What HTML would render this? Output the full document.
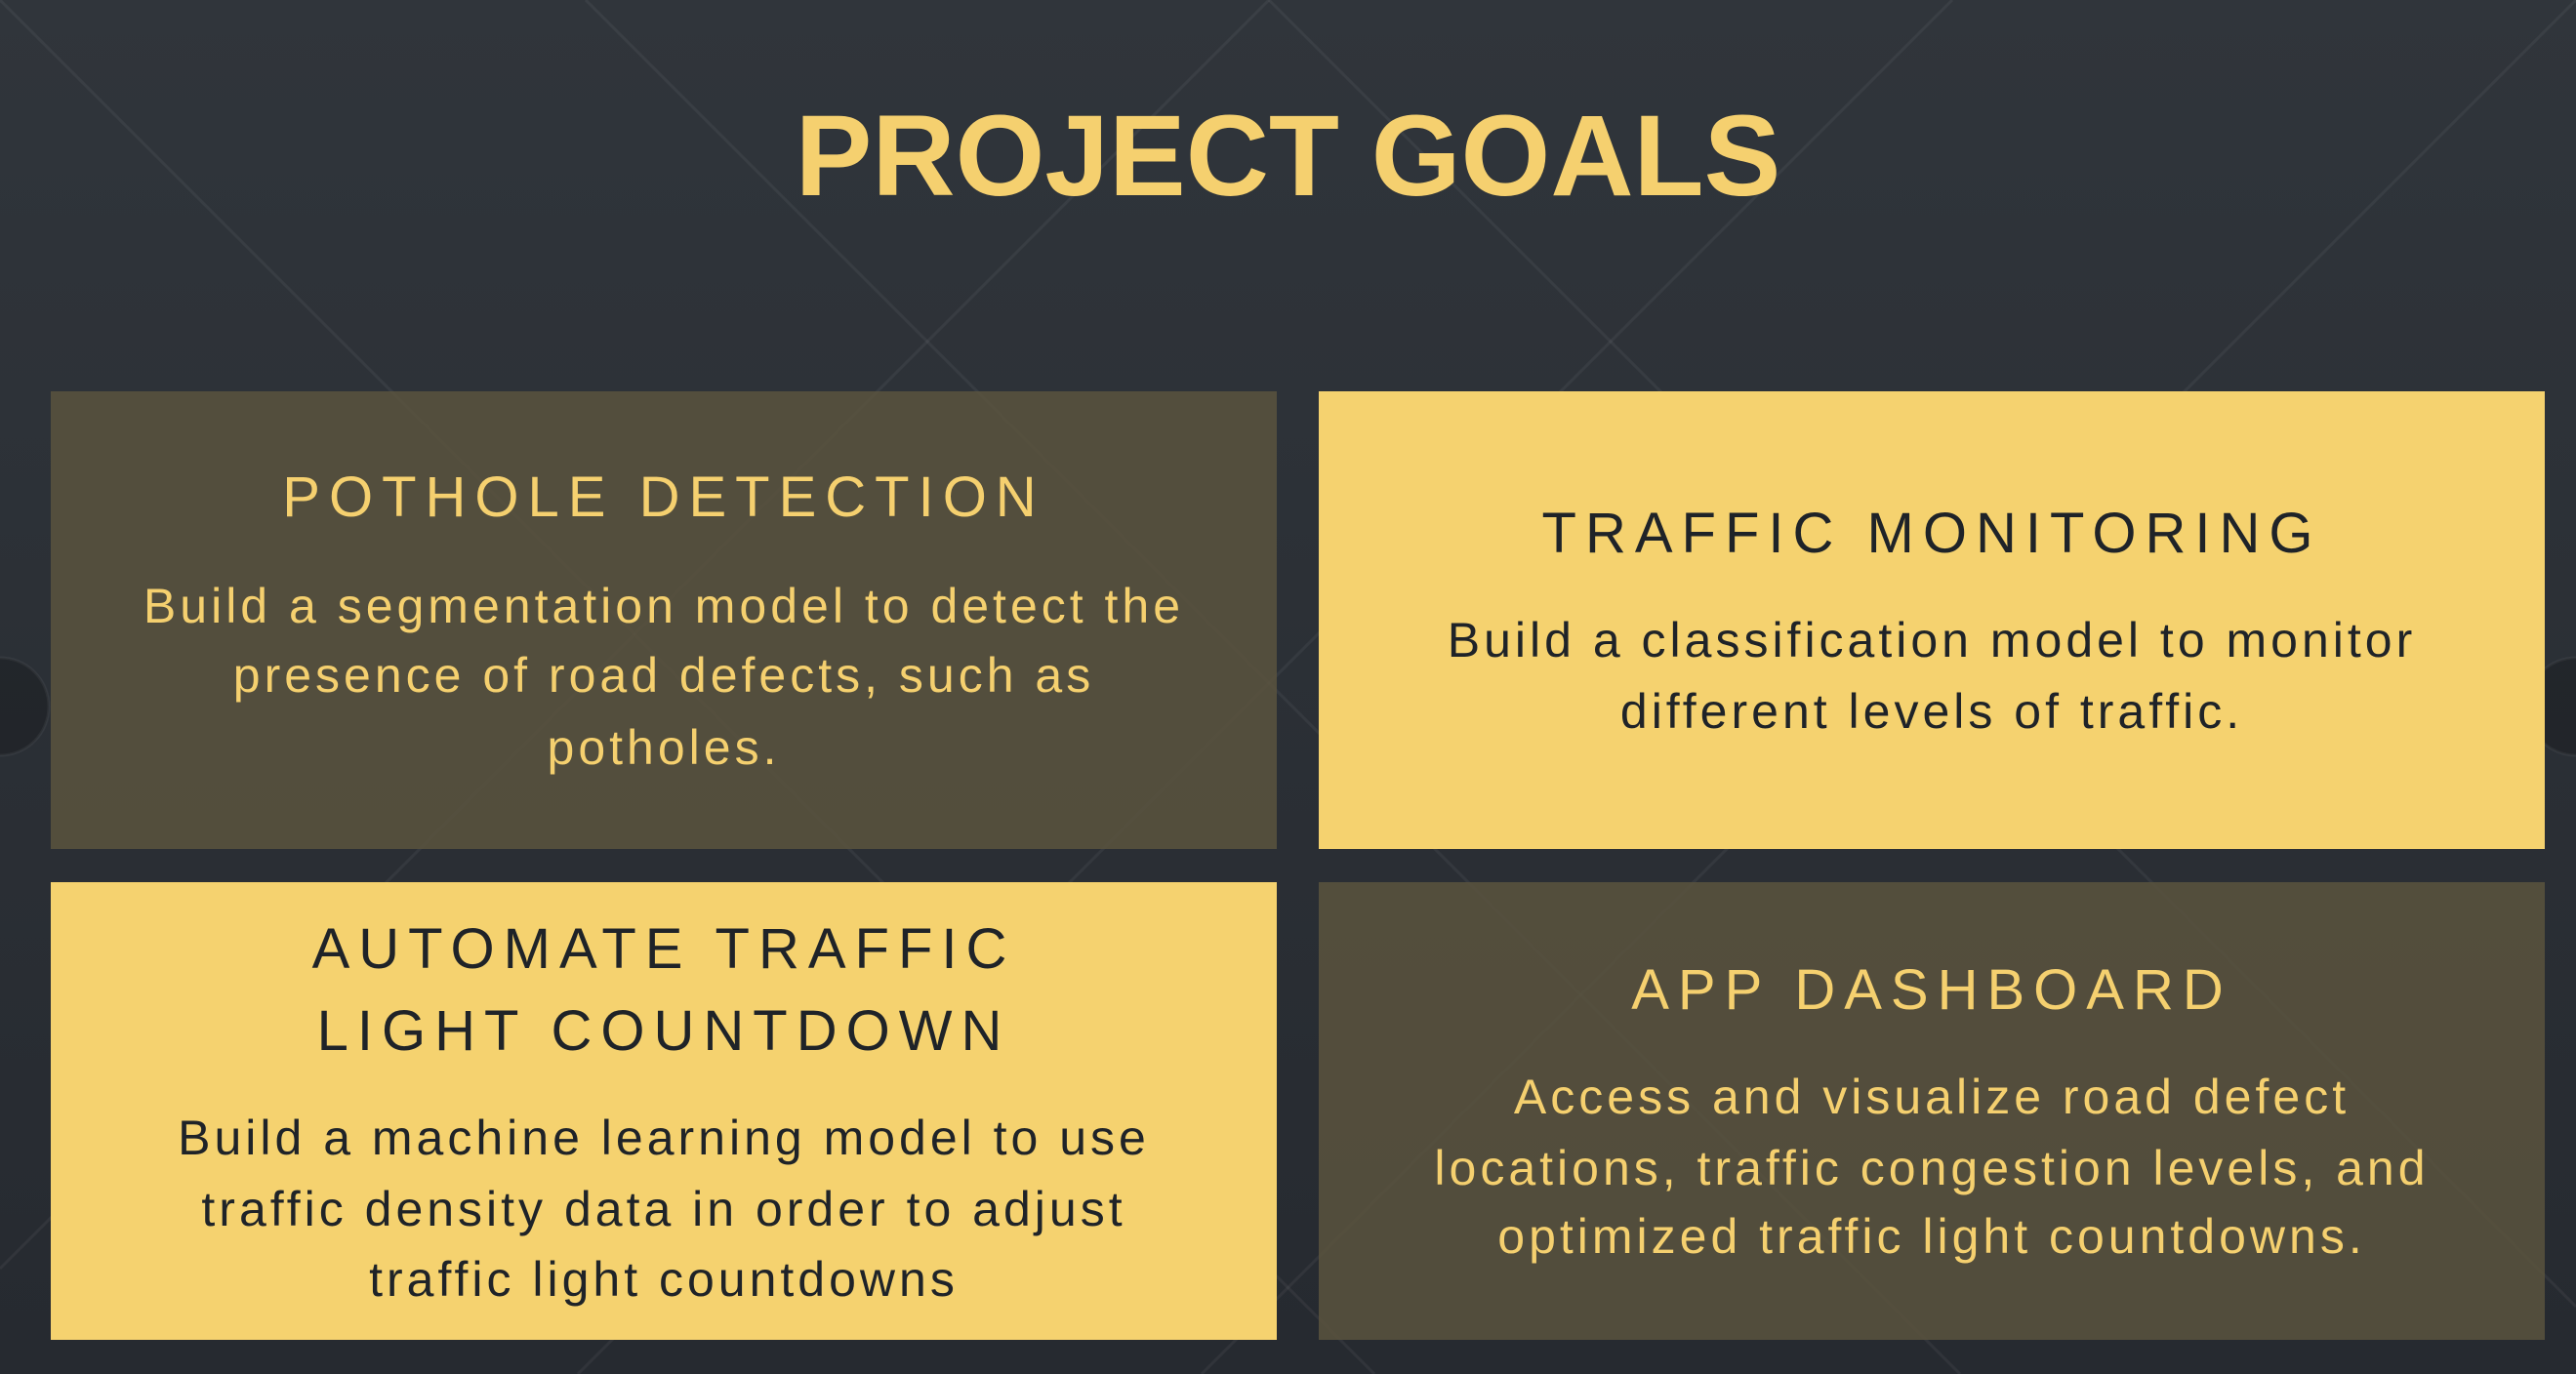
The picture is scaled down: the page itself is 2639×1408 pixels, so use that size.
<!DOCTYPE html>
<html><head><meta charset="utf-8"><style>
html,body{margin:0;padding:0}
body{width:2639px;height:1408px;position:relative;overflow:hidden;background:linear-gradient(180deg,#30353b 0%,#262a30 100%);font-family:"Liberation Sans",sans-serif}
.t{position:absolute;left:0;width:2639px;text-align:center;color:#f5d06f;font-weight:bold;font-size:118px;letter-spacing:0px;top:95px;line-height:130px}
.b{position:absolute;width:1256px;height:469px}
.d{background:rgba(90,84,62,0.85)}
.y{background:#f5d26f}
.l{position:absolute;left:0;width:100%;text-align:center;white-space:nowrap}
.h{font-size:58px;letter-spacing:9px;line-height:70px}
.p{font-size:50px;letter-spacing:4px;line-height:60px}
.d .l{color:#f5d06f}
.y .l{color:#1f2328}
</style></head><body>
<svg width="2639" height="1408" style="position:absolute;left:0;top:0" stroke="rgba(255,255,255,0.05)" stroke-width="3">
<line x1="0" y1="0" x2="1408" y2="1408"/><line x1="600" y1="0" x2="2008" y2="1408"/><line x1="1300" y1="0" x2="2639" y2="1339"/>
<line x1="2639" y1="0" x2="1231" y2="1408"/><line x1="2000" y1="0" x2="592" y2="1408"/><line x1="1300" y1="0" x2="0" y2="1300"/>
<circle cx="0" cy="724" r="50" fill="rgba(0,0,0,0.2)"/><circle cx="2639" cy="724" r="50" fill="rgba(0,0,0,0.2)"/>
</svg>
<div class="t">PROJECT GOALS</div>
<div class="b d" style="left:52px;top:401px">
<div class="l h" style="top:74px">POTHOLE DETECTION</div>
<div class="l p" style="top:190px">Build a segmentation model to detect the</div>
<div class="l p" style="top:261px">presence of road defects, such as</div>
<div class="l p" style="top:335px">potholes.</div>
</div>
<div class="b y" style="left:1351px;top:401px">
<div class="l h" style="top:111px">TRAFFIC MONITORING</div>
<div class="l p" style="top:225px">Build a classification model to monitor</div>
<div class="l p" style="top:298px">different levels of traffic.</div>
</div>
<div class="b y" style="left:52px;top:904px">
<div class="l h" style="top:34px">AUTOMATE TRAFFIC</div>
<div class="l h" style="top:118px">LIGHT COUNTDOWN</div>
<div class="l p" style="top:232px">Build a machine learning model to use</div>
<div class="l p" style="top:305px">traffic density data in order to adjust</div>
<div class="l p" style="top:377px">traffic light countdowns</div>
</div>
<div class="b d" style="left:1351px;top:904px">
<div class="l h" style="top:76px">APP DASHBOARD</div>
<div class="l p" style="top:190px">Access and visualize road defect</div>
<div class="l p" style="top:263px">locations, traffic congestion levels, and</div>
<div class="l p" style="top:333px">optimized traffic light countdowns.</div>
</div>
</body></html>
